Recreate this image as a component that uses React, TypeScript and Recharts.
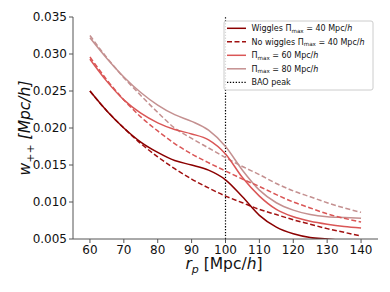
import React from "react";
import { LineChart, Line, XAxis, YAxis, ReferenceLine } from "recharts";

const rp = [60, 65, 70, 75, 80, 85, 90, 95, 100, 105, 110, 115, 120, 125, 130, 135, 140];
const wiggles40 = [0.025, 0.0223, 0.02, 0.0181, 0.0167, 0.0156, 0.015, 0.0143, 0.013, 0.0107, 0.0082, 0.0066, 0.0057, 0.0052, 0.005, 0.0048, 0.0047];
const noWiggles40 = [0.025, 0.0223, 0.02, 0.0179, 0.0161, 0.0145, 0.0131, 0.0119, 0.0108, 0.0099, 0.009, 0.0083, 0.0076, 0.007, 0.0064, 0.0059, 0.0054];
const wiggles60 = [0.0293, 0.0263, 0.0238, 0.022, 0.0207, 0.0198, 0.0192, 0.0184, 0.0165, 0.0133, 0.0108, 0.009, 0.008, 0.0074, 0.007, 0.0067, 0.0065];
const noWiggles60 = [0.0296, 0.0265, 0.0238, 0.0215, 0.0196, 0.0179, 0.0165, 0.0153, 0.0142, 0.0131, 0.0121, 0.011, 0.01, 0.0092, 0.0084, 0.0078, 0.0073];
const wiggles80 = [0.0322, 0.0294, 0.0269, 0.0248, 0.0231, 0.0218, 0.0209, 0.0197, 0.0175, 0.0143, 0.0116, 0.0099, 0.0089, 0.0083, 0.008, 0.0079, 0.0078];
const noWiggles80 = [0.0325, 0.0295, 0.0268, 0.0244, 0.0221, 0.02, 0.0186, 0.0173, 0.016, 0.0148, 0.0137, 0.0125, 0.0115, 0.0107, 0.0099, 0.0092, 0.0086];
const baoPeak = 100;
const xTicks = [60, 70, 80, 90, 100, 110, 120, 130, 140];
const yTicks = [0.005, 0.01, 0.015, 0.02, 0.025, 0.03, 0.035];

const C40 = "#8b0000";
const C40d = "#a01010";
const C60 = "#da5656";
const C80 = "#c49090";

const data = rp.map((x, i) => ({
  x,
  w40: wiggles40[i],
  n40: noWiggles40[i],
  w60: wiggles60[i],
  n60: noWiggles60[i],
  w80: wiggles80[i],
  n80: noWiggles80[i],
}));

const FONT = "DejaVu Sans";
const AX = "#555";

const legendItems = [
  { color: C40, dash: undefined as string | undefined, pre: "Wiggles ", val: "40" },
  { color: C40d, dash: "5 2.5", pre: "No wiggles ", val: "40" },
  { color: C60, dash: undefined, pre: "", val: "60" },
  { color: C80, dash: undefined, pre: "", val: "80" },
];

export default function App() {
  return (
    <div style={{ position: "relative", width: 390, height: 292, marginLeft: -8, marginTop: -8, background: "#fff" }}>
      <LineChart width={390} height={292} data={data} margin={{ top: 17, right: 12, bottom: 13, left: 13 }}>
        <XAxis
          dataKey="x"
          type="number"
          domain={[55, 145]}
          ticks={xTicks}
          allowDataOverflow
          height={40}
          tickSize={4}
          tickMargin={2}
          stroke={AX}
          tick={{ fontSize: 12, fill: "#111", fontFamily: FONT }}
          tickLine={{ stroke: AX }}
        />
        <XAxis xAxisId="top" orientation="top" dataKey="x" type="number" domain={[55, 145]} height={0} tick={false} tickLine={false} stroke={AX} />
        <YAxis
          type="number"
          domain={[0.005, 0.035]}
          ticks={yTicks}
          allowDataOverflow
          width={60}
          tickSize={4}
          tickMargin={2}
          stroke={AX}
          tickFormatter={(v: number) => v.toFixed(3)}
          tick={{ fontSize: 12, fill: "#111", fontFamily: FONT }}
          tickLine={{ stroke: AX }}
        />
        <YAxis yAxisId="right" orientation="right" domain={[0.005, 0.035]} width={0} tick={false} tickLine={false} stroke={AX} />
        <ReferenceLine x={baoPeak} stroke="#000" strokeWidth={1.2} strokeDasharray="1.3 1.6" />
        <Line dataKey="n80" type="monotone" stroke={C80} strokeWidth={1.5} strokeDasharray="5 2.5" dot={false} isAnimationActive={false} />
        <Line dataKey="w80" type="monotone" stroke={C80} strokeWidth={1.5} dot={false} isAnimationActive={false} />
        <Line dataKey="n60" type="monotone" stroke={C60} strokeWidth={1.5} strokeDasharray="5 2.5" dot={false} isAnimationActive={false} />
        <Line dataKey="w60" type="monotone" stroke={C60} strokeWidth={1.5} dot={false} isAnimationActive={false} />
        <Line dataKey="n40" type="monotone" stroke={C40d} strokeWidth={1.5} strokeDasharray="5 2.5" dot={false} isAnimationActive={false} />
        <Line dataKey="w40" type="monotone" stroke={C40} strokeWidth={1.5} dot={false} isAnimationActive={false} />
      </LineChart>
      <svg width={390} height={292} style={{ position: "absolute", left: 0, top: 0, pointerEvents: "none" }} fontFamily={FONT}>
        <text x={224} y={269} textAnchor="middle" fontSize={15.5} fill="#111">
          <tspan fontStyle="italic">r</tspan>
          <tspan fontStyle="italic" fontSize={11} dy={3.5}>p</tspan>
          <tspan dy={-3.5}> [Mpc/</tspan>
          <tspan fontStyle="italic">h</tspan>
          <tspan>]</tspan>
        </text>
        <text transform="translate(30,128) rotate(-90)" textAnchor="middle" fontSize={15.5} fill="#111">
          <tspan fontStyle="italic">w</tspan>
          <tspan fontSize={11} dy={3.5}>++</tspan>
          <tspan fontStyle="italic" dy={-3.5}> [Mpc/h]</tspan>
        </text>
        <rect x={224} y={21} width={149} height={69} rx={2} fill="#fff" fillOpacity={0.85} stroke="#ccc" strokeWidth={1} />
        {legendItems.map((it, i) => {
          const y = 28.3 + i * 13.5;
          return (
            <g key={i}>
              <line x1={227} x2={246} y1={y} y2={y} stroke={it.color} strokeWidth={1.5} strokeDasharray={it.dash} />
              <text x={251.5} y={y + 3} fontSize={8} fill="#111">
                {it.pre}Π<tspan fontSize={5.6} dy={1.5}>max</tspan>
                <tspan dy={-1.5}> = {it.val} Mpc/</tspan>
                <tspan fontStyle="italic">h</tspan>
              </text>
            </g>
          );
        })}
        <line x1={227} x2={246} y1={82.3} y2={82.3} stroke="#000" strokeWidth={1.2} strokeDasharray="1.3 1.6" />
        <text x={251.5} y={85.3} fontSize={8} fill="#111">BAO peak</text>
      </svg>
    </div>
  );
}
